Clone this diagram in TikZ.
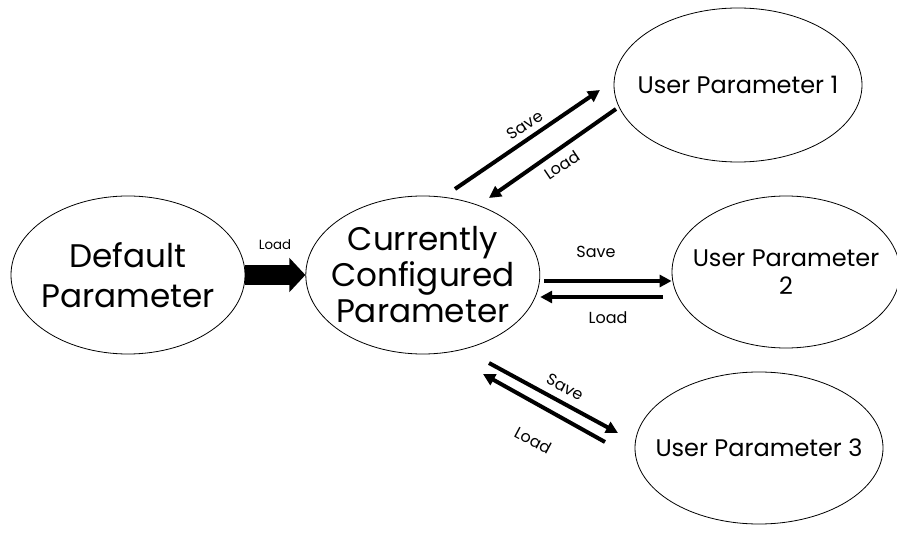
\documentclass[tikz,border=0pt]{standalone}
\usepackage{fontspec}
\setmainfont{Poppins}
\usetikzlibrary{positioning,shapes.geometric,arrows.meta}

\begin{document}
\begin{tikzpicture}[x=0.75pt,y=-0.75pt,>={Triangle[length=9pt,width=9pt]},
    node distance=45pt]
  \tikzstyle{state}=[draw,ellipse,line width=0.6pt,inner sep=-30pt,
    minimum width=175.5pt,minimum height=118.5pt,align=center]
  \tikzstyle{user}=[draw,ellipse,line width=0.6pt,inner sep=-30pt,
    minimum width=186pt,minimum height=115.5pt,align=center,
    font=\fontsize{18}{21}\selectfont]
  \tikzstyle{lbl}=[font=\fontsize{12}{14}\selectfont]
  \tikzstyle{link}=[->,line width=3pt]
  \useasboundingbox (0,0) rectangle (897,538);
  % parameter sets
  \node[state,font=\fontsize{24.5}{30}\selectfont] (def) at (128,275)
    {Default\\Parameter};
  \node[state,right=of def,font=\fontsize{24.5}{27}\selectfont] (cur)
    {Currently\\Configured\\Parameter};
  \node[user] (up1) at (738,85) {User Parameter 1};
  \node[user,minimum width=171pt,minimum height=114pt] (up2) at (786,272)
    {User Parameter\\2};
  \node[user,minimum height=114pt] (up3) at (759,448) {User Parameter 3};
  % default -> current
  \draw[line width=15pt,-{Triangle[length=12pt,width=25pt]}] (def) -- (cur);
  \node[font=\fontsize{10}{12}\selectfont] (l0) at (275,245) {Load};
  % end points of the save/load arrows
  \coordinate (s1a) at (455,189);  \coordinate (s1b) at (600,90);
  \coordinate (l1a) at (616,109);  \coordinate (l1b) at (489,198);
  \coordinate (s2a) at (544,281);  \coordinate (l2a) at (663,297);
  \coordinate (s3a) at (489,363);  \coordinate (s3b) at (618,433);
  \coordinate (l3a) at (605,442);  \coordinate (l3b) at (483,374);
  \draw[link] (s1a) -- (s1b);
  \draw[link] (l1a) -- (l1b);
  \draw[link] (s2a) -- (s2a -| up2.west);
  \draw[link] (l2a) -- (l2a -| cur.east);
  \draw[link] (s3a) -- (s3b);
  \draw[link] (l3a) -- (l3b);
  \node[lbl,rotate=34] (s1t) at (525,125) {Save};
  \node[lbl,rotate=34] (l1t) at (562,165) {Load};
  \node[lbl] (s2t) at (596,252) {Save};
  \node[lbl] (l2t) at (608,318) {Load};
  \node[lbl,rotate=-28] (s3t) at (565,387) {Save};
  \node[lbl,rotate=-28] (l3t) at (533,440) {Load};
\end{tikzpicture}
\end{document}
